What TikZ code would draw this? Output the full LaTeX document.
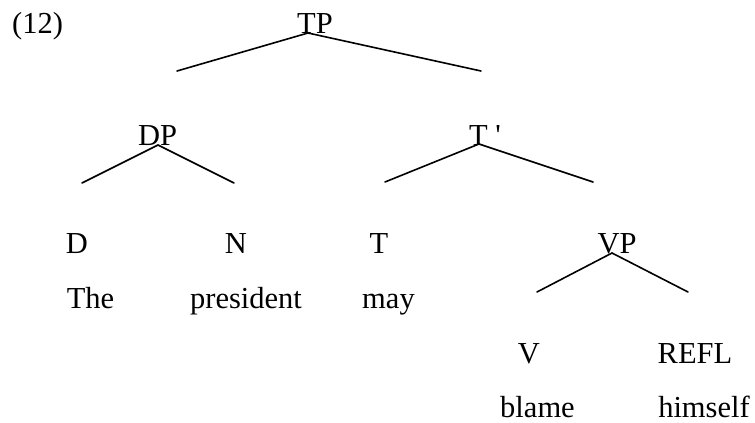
\documentclass[tikz,border=0pt]{standalone}
\usepackage{fontspec}
\setmainfont{Liberation Serif}
\newcommand{\straightquote}{\XeTeXglyph\numexpr\XeTeXglyphindex "quotesingle"\relax}
\begin{document}
\begin{tikzpicture}[x=1pt,y=-1pt,
  lbl/.style={anchor=base,inner sep=0pt,font=\fontsize{30.5}{36}\selectfont},
  edge/.style={line width=1.6pt,line cap=round}]
\useasboundingbox (0,0) rectangle (755,423);
% labels
\node[lbl,anchor=base west] (ex) at (12,33) {(12)};
\node[lbl] (TP) at (315,33) {TP};
\node[lbl] (DP) at (157.5,145) {DP};
\node[lbl,anchor=base west] (Tbar) at (469,145) {T \straightquote};
\node[lbl] (D) at (77,253) {D};
\node[lbl] (N) at (236,253) {N};
\node[lbl] (T) at (379,253) {T};
\node[lbl] (VP) at (617,253) {VP};
\node[lbl] (The) at (90.5,308) {The};
\node[lbl] (pres) at (246,308) {president};
\node[lbl] (may) at (388.5,308) {may};
\node[lbl] (V) at (529,363) {V};
\node[lbl] (REFL) at (695,363) {REFL};
\node[lbl] (blame) at (537.5,417) {blame};
\node[lbl] (himself) at (704,417) {himself};
% branch points
\coordinate (TPa) at (308,33);
\coordinate (TPl) at (177,71);
\coordinate (TPr) at (481,71);
\coordinate (DPa) at (158,145);
\coordinate (DPl) at (82,183);
\coordinate (DPr) at (234,183);
\coordinate (Tba) at (479,144);
\coordinate (Tbl) at (385,182);
\coordinate (Tbr) at (593,182);
\coordinate (VPa) at (612,253);
\coordinate (VPl) at (537,292);
\coordinate (VPr) at (688,292);
\draw[edge] (TPl) -- (TPa) -- (TPr);
\draw[edge] (DPl) -- (DPa) -- (DPr);
\draw[edge] (Tbl) -- (Tba) -- (Tbr);
\draw[edge] (VPl) -- (VPa) -- (VPr);
\end{tikzpicture}
\end{document}
